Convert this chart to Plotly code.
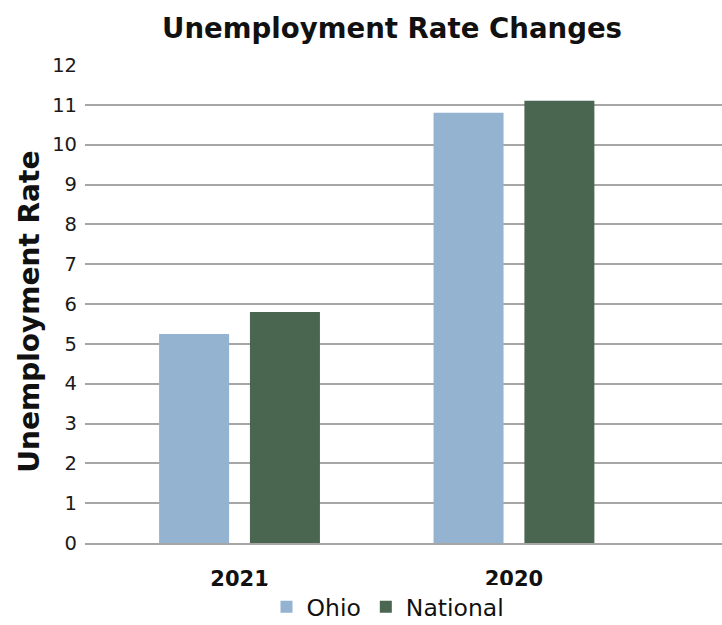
import plotly.graph_objects as go

categories = ["2021", "2020"]
ohio = [5.25, 10.8]
national = [5.8, 11.1]
y_ticks = list(range(0, 13))

FONT = "DejaVu Sans"
x_pos = list(range(len(categories)))

fig = go.Figure()
fig.add_trace(go.Bar(x=x_pos, y=ohio, name="Ohio", marker_color="#93B3D0",
                     width=0.255, offset=-0.293, marker_line_width=0))
fig.add_trace(go.Bar(x=x_pos, y=national, name="National", marker_color="#4A6650",
                     width=0.255, offset=0.038, marker_line_width=0))

fig.update_layout(
    width=722, height=625,
    margin=dict(l=85, r=0, t=65, b=82, autoexpand=False),
    paper_bgcolor="white", plot_bgcolor="white",
    barmode="overlay",
    font=dict(family=FONT, color="#1a1a1a", size=19),
    title=dict(text="<b>Unemployment Rate Changes</b>", x=0.543, xref="container",
               xanchor="center", y=1 - 28 / 625, yref="container", yanchor="middle",
               font=dict(size=27.6, family=FONT, color="#111")),
    showlegend=True,
    legend=dict(orientation="h", x=388 / 722, xref="container", xanchor="center",
                y=1 - 607 / 625, yref="container", yanchor="middle",
                font=dict(size=23.5, family=FONT, color="#111"),
                itemsizing="constant"),
    xaxis=dict(tickmode="array", tickvals=x_pos, ticktext=[f"<b>{c}</b>" for c in categories],
               range=[-0.563, 1.758], showgrid=False, zeroline=False, automargin=False,
               showline=True, linecolor="#A6A6A6", linewidth=1.5,
               ticks="", ticklabelstandoff=16, tickfont=dict(size=21, color="#111")),
    yaxis=dict(range=[0, 12], tickmode="array", tickvals=y_ticks, automargin=False,
               showgrid=True, gridcolor="#A6A6A6", gridwidth=1.5,
               zeroline=False, showline=False, ticks="", ticklabelstandoff=7,
               tickfont=dict(size=19.5, color="#1a1a1a")),
    annotations=[dict(text="<b>Unemployment Rate</b>", textangle=-90,
                      x=0, xref="paper", xanchor="center", xshift=-55,
                      y=0.484, yref="paper", yanchor="middle", showarrow=False,
                      font=dict(size=28, family=FONT, color="#111"))],
)

fig.write_html("out.html", config={"displayModeBar": False},
               post_script="document.body.style.margin='0';document.body.style.overflow='hidden';")
